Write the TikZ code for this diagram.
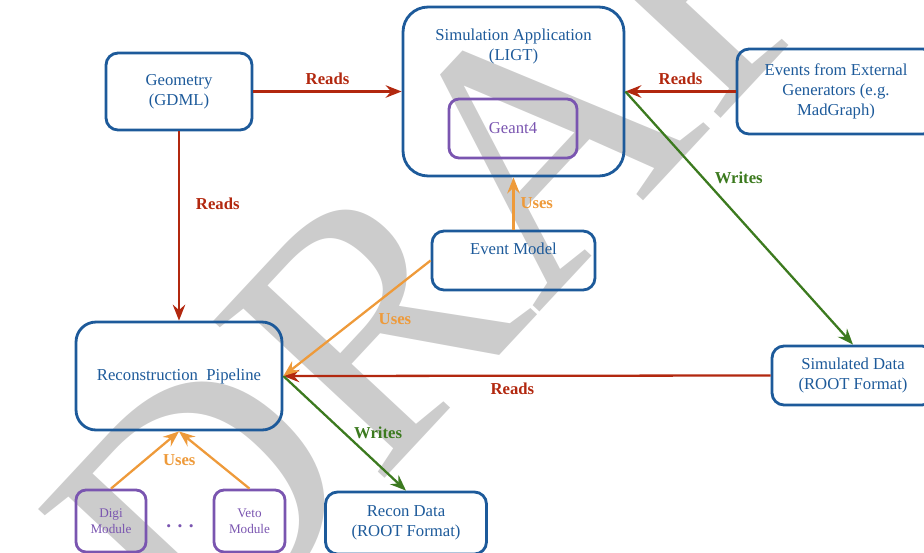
\documentclass[tikz,border=0pt]{standalone}
\usepackage{fontspec}
\setmainfont{Liberation Serif}
\usetikzlibrary{arrows.meta}
\definecolor{boxblue}{HTML}{1D5A9A}
\definecolor{modpurple}{HTML}{7A55B0}
\definecolor{readred}{HTML}{B2280F}
\definecolor{writegreen}{HTML}{3C7A1F}
\definecolor{useorange}{HTML}{EE9A3A}
\begin{document}
\begin{tikzpicture}[x=0.02cm, y=-0.02cm,
  bigbox/.style={draw=boxblue, line width=1.6pt, rounded corners=0.24cm, text=boxblue,
    align=center, font=\fontsize{9.5}{11.5}\selectfont},
  modbox/.style={draw=modpurple, line width=1.6pt, rounded corners=0.2cm, text=modpurple,
    align=center},
  reads/.style={readred, line width=1.3pt, -{Stealth[length=0.32cm, width=0.25cm, inset=0.11cm]}},
  writes/.style={writegreen, line width=1.3pt, -{Stealth[length=0.32cm, width=0.25cm, inset=0.11cm]}},
  uses/.style={useorange, line width=1.3pt, -{Stealth[length=0.32cm, width=0.25cm, inset=0.11cm]}},
  lbl/.style={font=\bfseries\fontsize{9.5}{11.5}\selectfont}]
\useasboundingbox (0,0) rectangle (924,552);
\node[text=black!20, rotate=47, font=\fontsize{202}{202}\selectfont] (draft) at (513,170) {DRAFT};
\node[bigbox, minimum width=2.92cm, minimum height=1.54cm] (geo) at (179,91.5) {Geometry\\(GDML)};
\node[bigbox, rounded corners=0.5cm, minimum width=4.42cm, minimum height=3.38cm,
  label={[bigbox, draw=none, anchor=north, yshift=-0.32cm]north:Simulation Application\\(LIGT)}] (sim) at (513.5,91.5) {};
\node[modbox, font=\fontsize{9.5}{11.5}\selectfont, minimum width=2.56cm, minimum height=1.18cm] (geant) at (513,128.5) {Geant4};
\node[bigbox, minimum width=3.96cm, minimum height=1.7cm] (ext) at (836,91.5) {Events from External\\Generators (e.g.\\MadGraph)};
\node[bigbox, minimum width=3.26cm, minimum height=1.18cm, text depth=13pt] (evmodel) at (513.5,260.5) {Event Model};
\node[bigbox, rounded corners=0.4cm, minimum width=4.12cm, minimum height=2.16cm] (recon) at (179,376) {Reconstruction\ \ Pipeline};
\node[bigbox, minimum width=3.24cm, minimum height=1.18cm] (simdata) at (853,375.5) {Simulated Data\\(ROOT Format)};
\node[bigbox, minimum width=3.22cm, minimum height=1.24cm] (recondata) at (406,523) {Recon Data\\(ROOT Format)};
\node[modbox, font=\fontsize{7.5}{9}\selectfont, minimum width=1.4cm, minimum height=1.24cm] (digi) at (111,521) {Digi\\Module};
\node[modbox, font=\fontsize{7.5}{9}\selectfont, minimum width=1.42cm, minimum height=1.24cm] (veto) at (249.5,521) {Veto\\Module};
\node[text=modpurple, font=\bfseries\fontsize{11}{13}\selectfont] (dots) at (180,526) {. . .};
\draw[reads] (geo.east) -- node[lbl, midway, above] {Reads} (sim.west);
\draw[reads] (ext.west) -- node[lbl, midway, above] {Reads} (sim.east);
\draw[reads] (geo.south) -- node[lbl, pos=0.38, right, xshift=0.2cm] {Reads} (recon.north);
\draw[reads] (simdata.west) -- node[lbl, pos=0.53, below] {Reads} (recon.east);
\draw[writes] (sim.east) -- node[lbl, pos=0.34, right, xshift=0.1cm] {Writes} (simdata.north);
\draw[writes] (recon.east) -- node[lbl, midway, right, xshift=0.05cm] {Writes} (recondata.north);
\draw[uses] (evmodel.north) -- node[lbl, midway, right] {Uses} (sim.south);
\draw[uses] (evmodel.west) -- node[lbl, pos=0.4, below right] {Uses} (recon.east);
\draw[uses] (digi.north) -- (recon.south);
\draw[uses] (veto.north) -- node[lbl, midway, xshift=-0.7cm] {Uses} (recon.south);
\end{tikzpicture}
\end{document}
